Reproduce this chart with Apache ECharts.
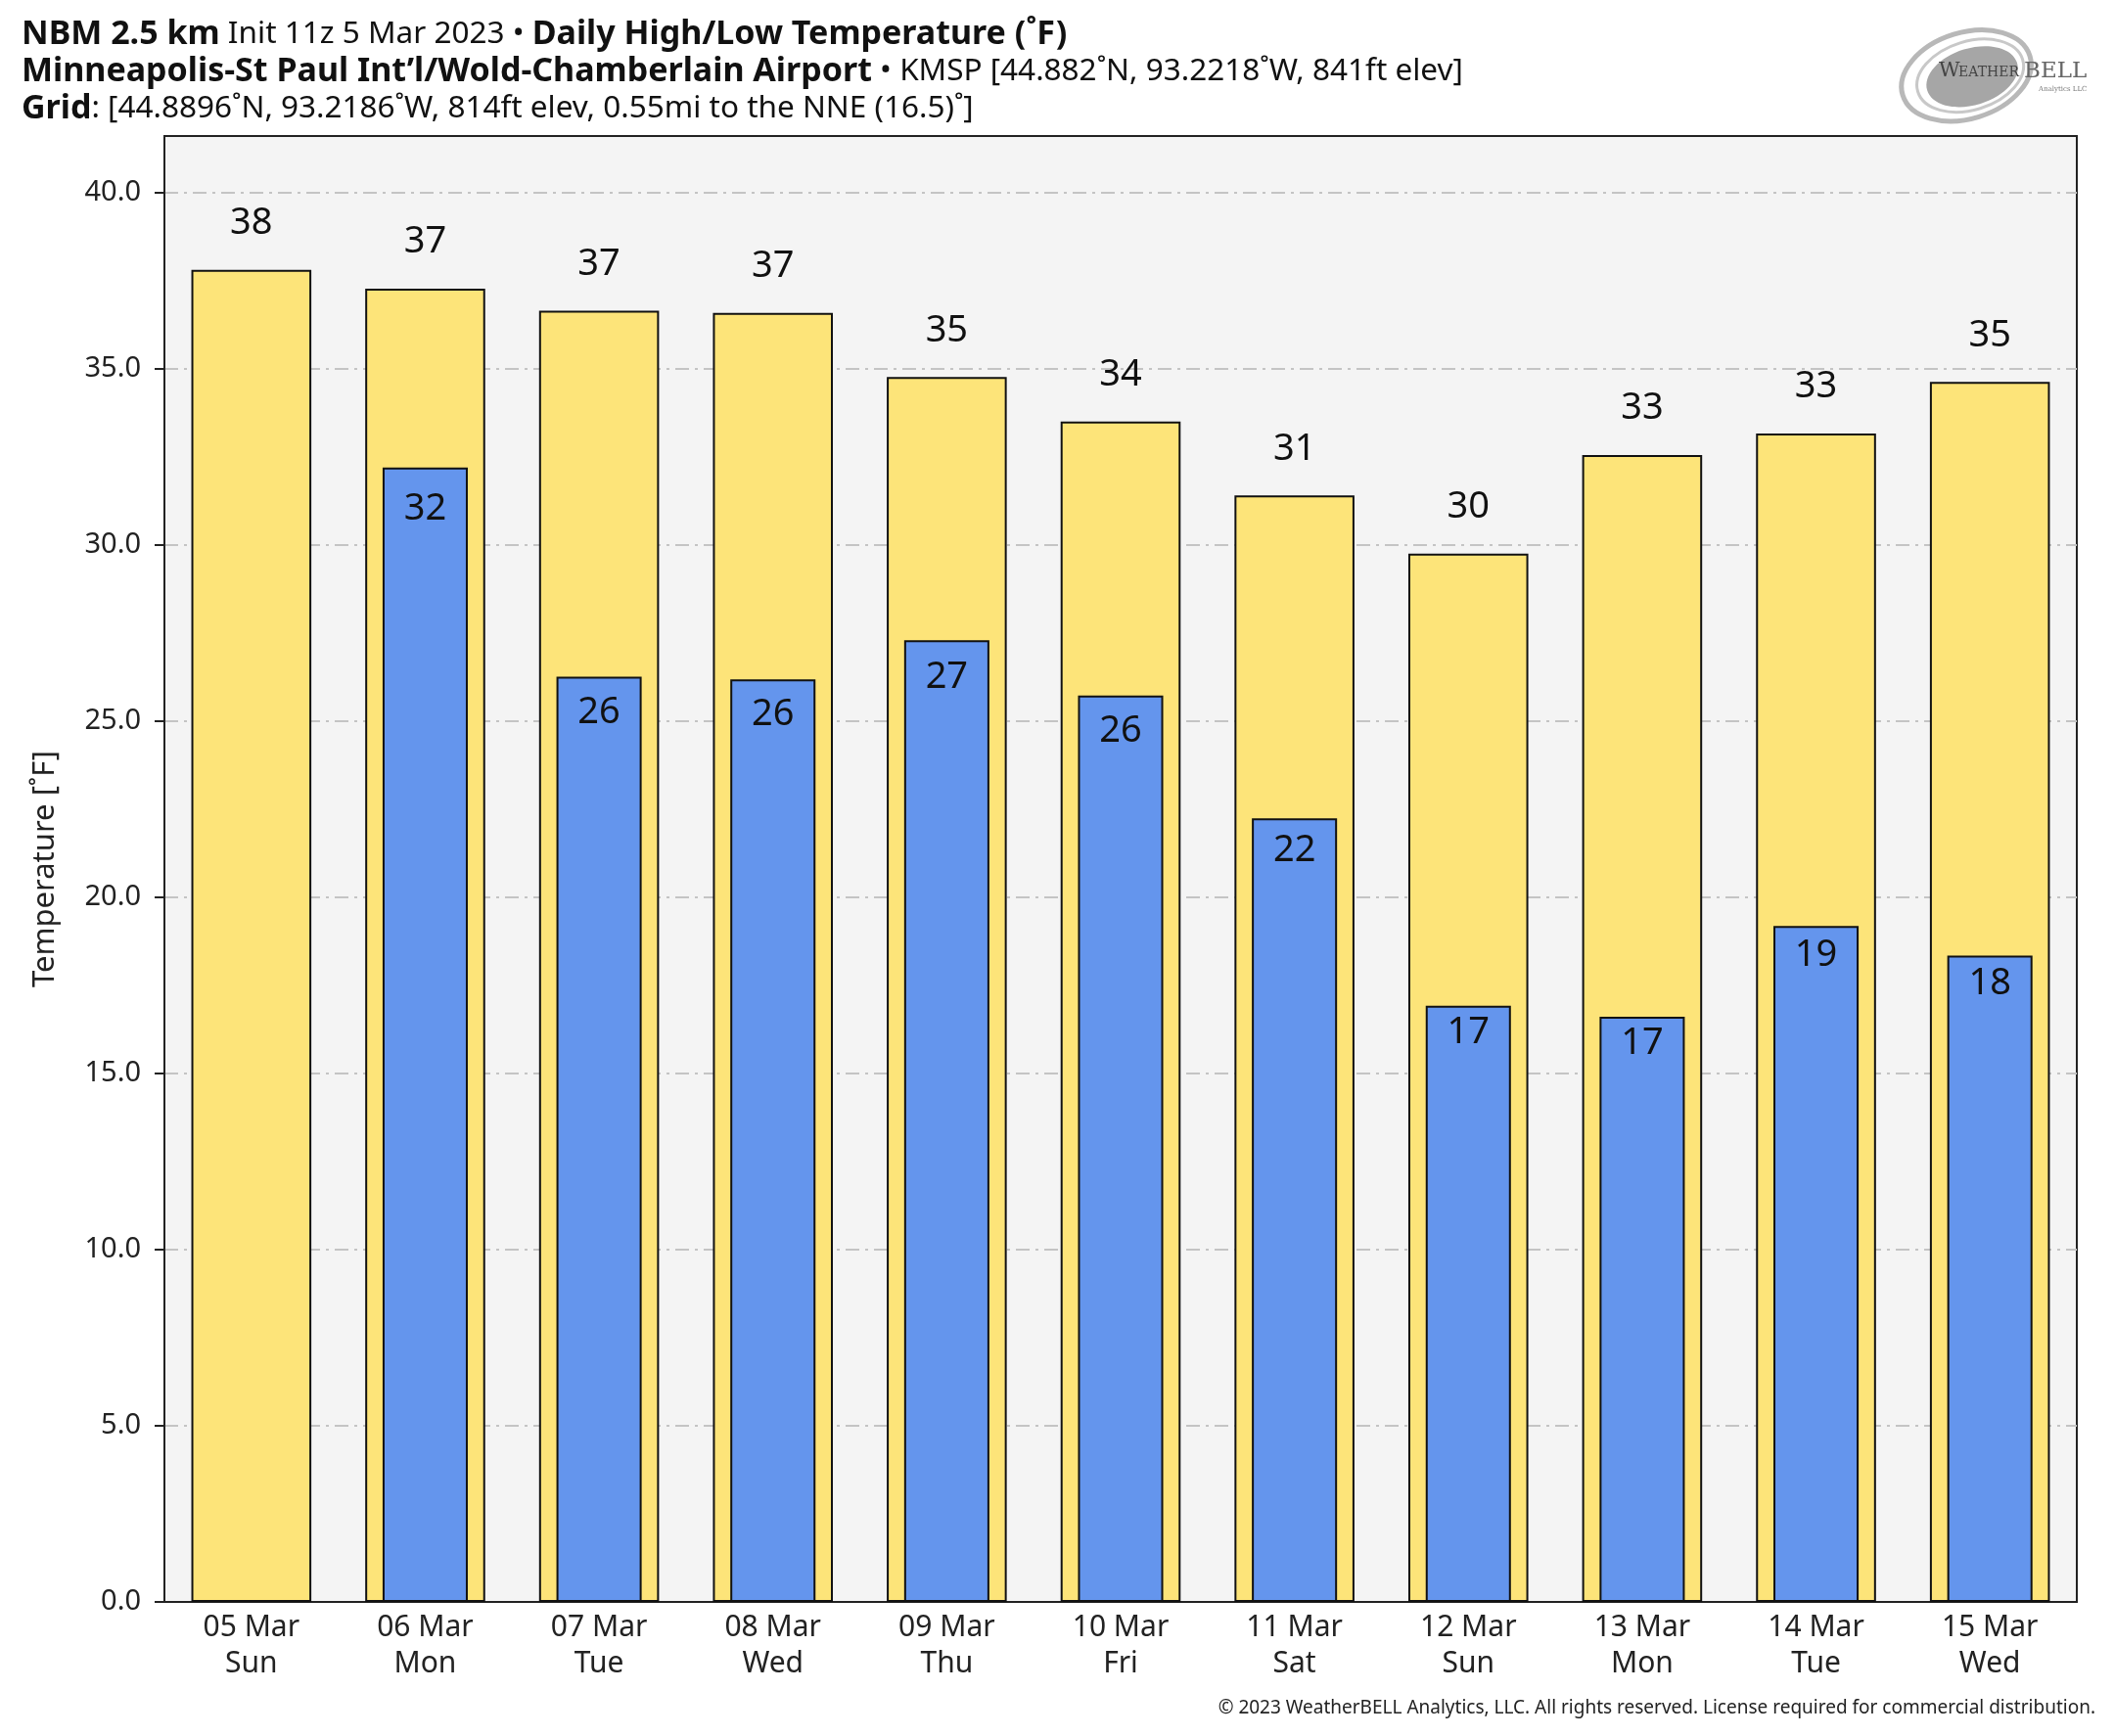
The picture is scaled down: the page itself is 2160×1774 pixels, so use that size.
<!DOCTYPE html>
<html><head><meta charset="utf-8">
<script src="https://cdn.jsdelivr.net/npm/echarts@6/dist/echarts.min.js"></script>
<style>html,body{margin:0;padding:0;background:#fff}#c{width:2160px;height:1774px}</style>
</head><body><div id="c"></div>
<script>
const categories = ['05 Mar\nSun','06 Mar\nMon','07 Mar\nTue','08 Mar\nWed','09 Mar\nThu','10 Mar\nFri','11 Mar\nSat','12 Mar\nSun','13 Mar\nMon','14 Mar\nTue','15 Mar\nWed'];
const highs = [37.8, 37.27, 36.64, 36.58, 34.76, 33.5, 31.4, 29.75, 32.55, 33.16, 34.62];
const lows = [null, 32.19, 26.26, 26.18, 27.29, 25.72, 22.24, 16.92, 16.61, 19.18, 18.34];
const yTicks = [0, 5, 10, 15, 20, 25, 30, 35, 40];

const FONT = '"Noto Sans", "Open Sans", sans-serif';
const chart = echarts.init(document.getElementById('c'), null, {renderer: 'canvas'});
const gridLine = {show: true, lineStyle: {color: '#c4c4c4', width: 2, type: [14, 6, 3, 6]}};

// low labels sit a little deeper inside taller bars, as in the source chart
const lowData = lows.map(v => v == null ? null : {value: v, label: {distance: Math.max(6, 0.93 * v - 7)}});

chart.setOption({
  backgroundColor: '#ffffff',
  animation: false,
  title: {
    left: 17, top: 11,
    text: '{b|NBM 2.5 km} {n|Init 11z 5 Mar 2023 • }{b|Daily High/Low Temperature (˚F)}\n' +
          '{b|Minneapolis-St Paul Int\u2019l/Wold-Chamberlain Airport}{n| • KMSP [44.882˚N, 93.2218˚W, 841ft elev]}\n' +
          '{b|Grid}{n|: [44.8896˚N, 93.2186˚W, 814ft elev, 0.55mi to the NNE (16.5)˚]}',
    textStyle: {
      fontFamily: FONT, fontSize: 31.5, lineHeight: 38, color: '#111',
      rich: {
        b: {fontFamily: FONT, fontSize: 34, fontWeight: 'bold', lineHeight: 38, color: '#111'},
        n: {fontFamily: FONT, fontSize: 31.5, fontWeight: 'normal', lineHeight: 38, color: '#111'}
      }
    }
  },
  grid: {left: 168, right: 38, top: 139, bottom: 137, show: true, backgroundColor: '#f4f4f4', borderColor: '#222', borderWidth: 2, containLabel: false},
  xAxis: [
    {type: 'category', data: categories, axisTick: {show: false},
     axisLine: {show: true, lineStyle: {color: '#222', width: 2}},
     axisLabel: {fontFamily: FONT, fontSize: 30, color: '#222', lineHeight: 37, margin: 8}},
    {type: 'category', data: categories, show: false, position: 'bottom'}
  ],
  yAxis: {
    type: 'value', min: 0, max: 41.6, interval: 5,
    name: 'Temperature [˚F]', nameLocation: 'middle', nameGap: 106, nameRotate: 90,
    nameTextStyle: {fontFamily: FONT, fontSize: 31, color: '#222'},
    axisLine: {show: true, lineStyle: {color: '#222', width: 2}},
    axisTick: {show: true, length: 10, lineStyle: {color: '#222', width: 2}, customValues: yTicks},
    axisLabel: {fontFamily: FONT, fontSize: 29, color: '#222', margin: 24, customValues: yTicks,
      formatter: v => (v % 5 === 0 ? v.toFixed(1) : '')},
    splitLine: gridLine
  },
  series: [
    {type: 'bar', name: 'High', xAxisIndex: 0, data: highs, barWidth: '69%',
     itemStyle: {color: '#fde479', borderColor: '#111', borderWidth: 2},
     label: {show: true, position: 'top', distance: 28.5, fontFamily: FONT, fontSize: 38, color: '#111',
       formatter: p => Math.round(p.value)}, z: 2},
    {type: 'bar', name: 'Low', xAxisIndex: 1, data: lowData, barWidth: '49%',
     itemStyle: {color: '#6495ed', borderColor: '#111', borderWidth: 2},
     label: {show: true, position: 'insideTop', distance: 20, fontFamily: FONT, fontSize: 38, color: '#111',
       formatter: p => (p.value == null ? '' : Math.round(p.value))}, z: 3}
  ],
  graphic: [
    {type: 'text', right: 19, top: 1736, style: {text: '© 2023 WeatherBELL Analytics, LLC. All rights reserved. License required for commercial distribution.', fontFamily: FONT, fontSize: 19, fill: '#222'}},
    {type: 'group', left: 1928, top: 12, children: [
      {type: 'ellipse', shape: {cx: 68, cy: 54, rx: 68, ry: 44}, rotation: 0.3, originX: 68, originY: 54, style: {fill: 'none', stroke: '#b8b8b8', lineWidth: 5}},
      {type: 'ellipse', shape: {cx: 72, cy: 54, rx: 56, ry: 35}, rotation: 0.3, originX: 72, originY: 54, style: {fill: 'none', stroke: '#c8c8c8', lineWidth: 3}},
      {type: 'ellipse', shape: {cx: 74, cy: 55, rx: 48, ry: 29}, rotation: 0.3, originX: 74, originY: 55, style: {fill: '#a6a6a6', stroke: 'none'}},
      {type: 'text', x: 40, y: 60, style: {text: 'W', fontFamily: '"DejaVu Serif", serif', fontSize: 21, fill: '#444', verticalAlign: 'bottom'}},
      {type: 'text', x: 60, y: 58, style: {text: 'EATHER', fontFamily: '"DejaVu Serif", serif', fontSize: 14, fill: '#444', verticalAlign: 'bottom'}},
      {type: 'text', x: 127, y: 61, style: {text: 'BELL', fontFamily: '"DejaVu Serif", serif', fontSize: 23, fill: '#666', verticalAlign: 'bottom'}},
      {type: 'text', x: 142, y: 64, style: {text: 'Analytics LLC', fontFamily: '"DejaVu Serif", serif', fontSize: 7, fill: '#777'}}
    ]}
  ]
});
</script>
</body></html>
